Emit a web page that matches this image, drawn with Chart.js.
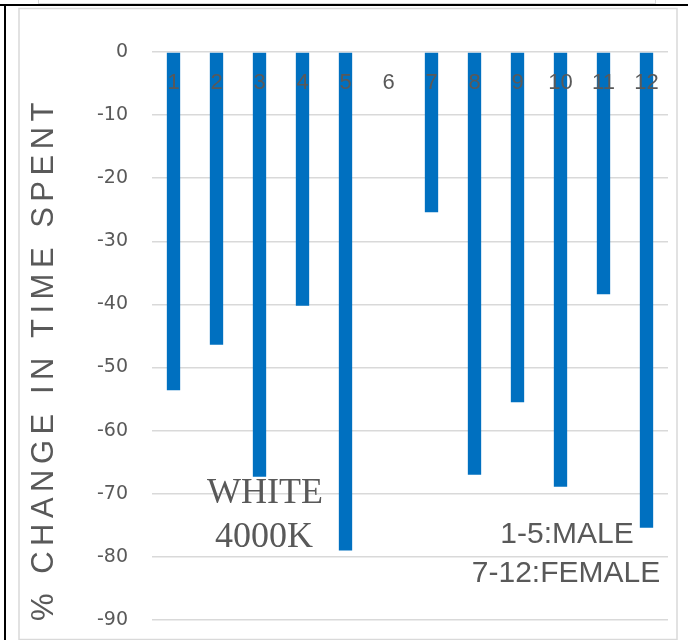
<!DOCTYPE html>
<html lang="en">
<head>
  <meta charset="UTF-8" />
  <title>% change in time spent</title>
  <script src="https://cdn.jsdelivr.net/npm/chart.js"></script>
  <style>
    html, body { margin: 0; padding: 0; background: #fff; }
    #wrap { width: 688px; height: 640px; }
  </style>
</head>
<body>
<div id="wrap"><canvas id="chart" width="688" height="640"></canvas></div>

<script>
  // subjects 1-5 male, 7-12 female, 6 is empty
  const categories = ['1', '2', '3', '4', '5', '6', '7', '8', '9', '10', '11', '12'];
  const changeValues = [-53.6, -46.4, -67.3, -40.2, -79, 0, -25.4, -67, -55.5, -68.9, -38.4, -75.4];
  const yTicks = [0, -10, -20, -30, -40, -50, -60, -70, -80, -90];

  const grey = '#595959';

  // page frame: table borders and the box of the chart
  const framePlugin = {
    id: 'frame',
    beforeDraw(chart) {
      const c = chart.ctx;
      c.save();
      c.fillStyle = '#fff';
      c.fillRect(0, 0, chart.width, chart.height);
      c.fillStyle = '#000';
      c.fillRect(0, 4, 688, 2);
      c.fillRect(4, 4, 2, 640);
      // box from the picture above
      c.fillStyle = '#fff';
      c.fillRect(38, 0, 618, 4);
      c.strokeStyle = '#d9d9d9';
      c.lineWidth = 1;
      c.strokeRect(38.5, -2, 617, 5.5);
      // chart box
      c.lineWidth = 1.5;
      c.strokeRect(19, 8.5, 658, 631);
      c.restore();
    }
  };

  // category numbers just under the zero line, over the bars
  const catLabels = {
    id: 'catLabels',
    afterDatasetsDraw(chart) {
      const c = chart.ctx;
      const x = chart.scales.x, y = chart.scales.y;
      c.save();
      c.font = '22px "Liberation Sans", Arial, sans-serif';
      c.fillStyle = grey;
      c.textAlign = 'center';
      c.textBaseline = 'middle';
      categories.forEach((lab, i) => {
        c.fillText(lab, x.getPixelForValue(i), y.getPixelForValue(0) + 31);
      });
      c.restore();
    }
  };

  const notes = {
    id: 'notes',
    afterDraw(chart) {
      const c = chart.ctx;
      c.save();
      c.fillStyle = grey;
      c.textAlign = 'center';
      c.textBaseline = 'middle';
      c.font = '36px "Liberation Serif", "Times New Roman", serif';
      c.fillText('WHITE', 265, 494);
      c.fillText('4000K', 264, 538);
      c.font = '30px "Liberation Sans", Arial, sans-serif';
      c.fillText('1-5:MALE', 567, 535);
      c.fillText('7-12:FEMALE', 566, 574);

      // axis title, spaced out
      c.translate(44, 359);
      c.rotate(-Math.PI / 2);
      c.font = '31px "Liberation Sans", Arial, sans-serif';
      c.letterSpacing = '5.5px';
      c.fillText('% CHANGE IN TIME SPENT', 0, 0);
      c.restore();
    }
  };

  new Chart(document.getElementById('chart'), {
    type: 'bar',
    data: {
      labels: categories,
      datasets: [{
        data: changeValues,
        backgroundColor: '#0070c0',
        borderWidth: 0,
        barPercentage: 0.31,
        categoryPercentage: 1
      }]
    },
    options: {
      responsive: false,
      animation: false,
      layout: { padding: { left: 0, top: 52, right: 20, bottom: 20 } },
      plugins: {
        legend: { display: false },
        tooltip: { enabled: false }
      },
      scales: {
        x: { display: false },
        y: {
          min: -90,
          max: 0,
          afterFit(scale) {
            scale.width = 152;
            // tick padding would otherwise also pad top/bottom
            scale.paddingTop = 12;
            scale.paddingBottom = 12;
          },
          afterBuildTicks(scale) {
            scale.ticks = yTicks.map(v => ({ value: v }));
          },
          border: { display: false },
          grid: { color: '#d9d9d9', lineWidth: 1.5, drawTicks: false },
          ticks: {
            padding: 24,
            color: grey,
            font: { family: '"DejaVu Sans", sans-serif', size: 19 }
          }
        }
      }
    },
    plugins: [framePlugin, catLabels, notes]
  });
</script>
</body>
</html>
